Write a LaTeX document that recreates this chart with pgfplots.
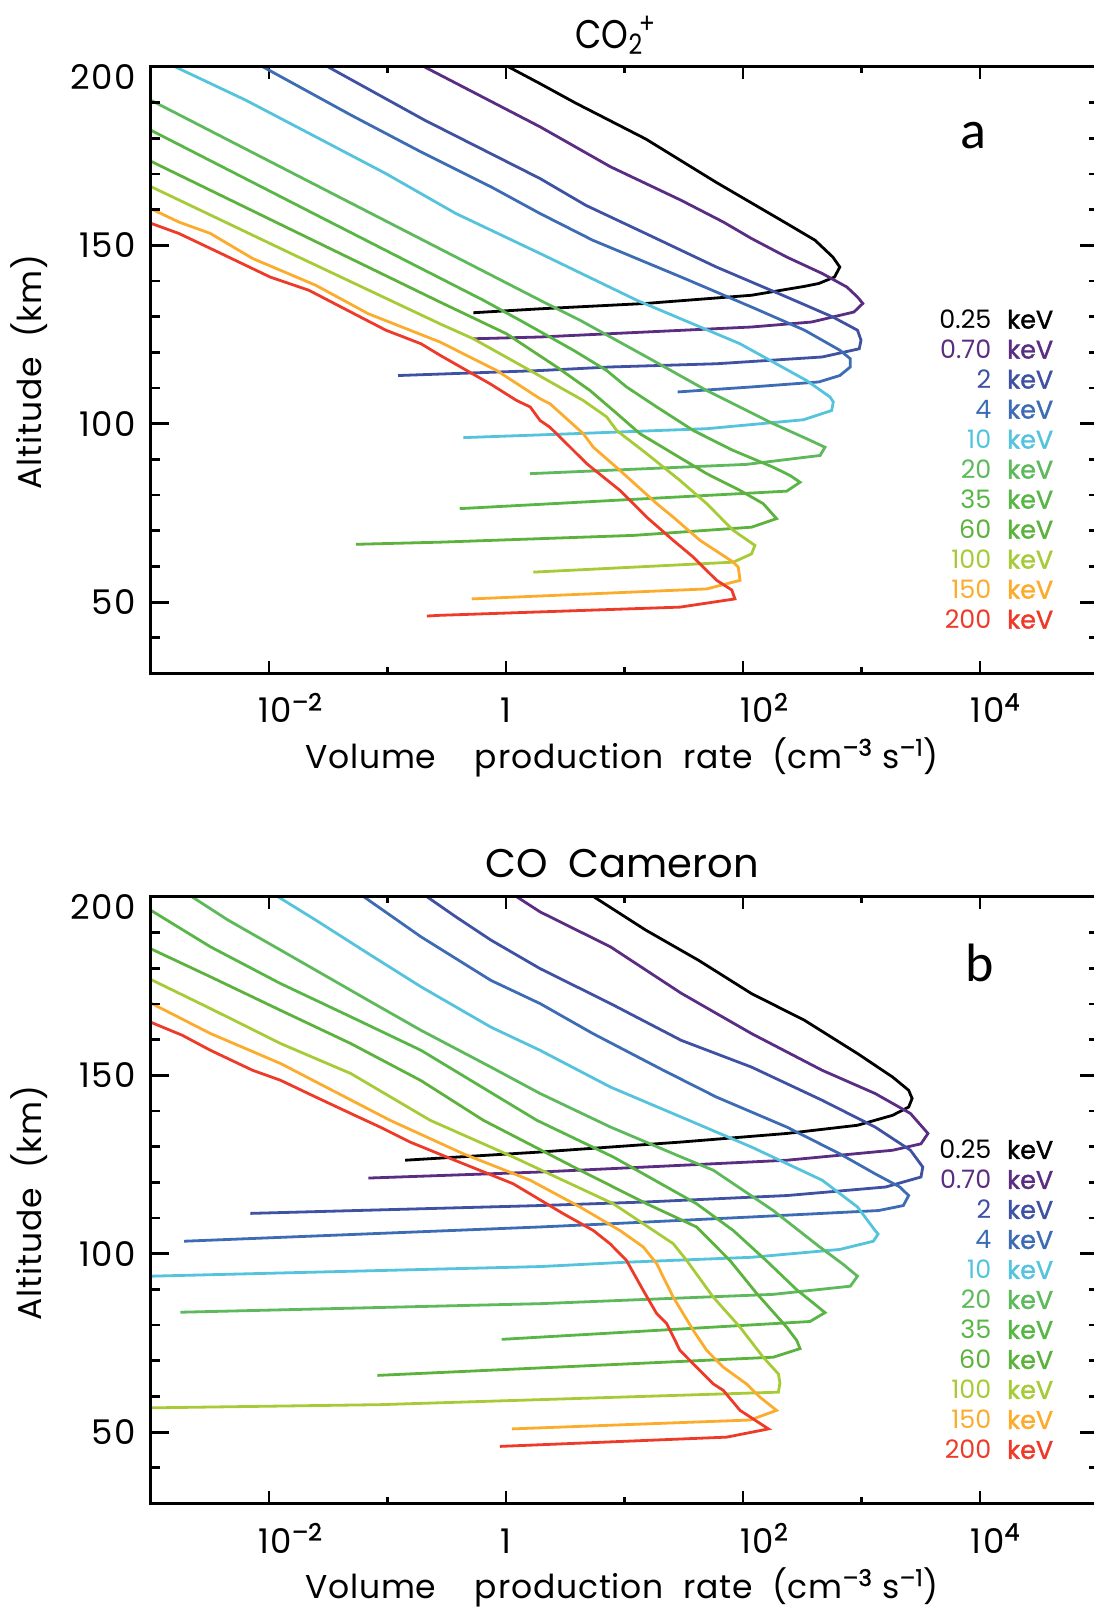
\documentclass[border=0pt]{standalone}
\usepackage{fontspec}
\setmainfont{Poppins}
\newfontfamily\tickfont{Poppins}[LetterSpace=5]
\newfontfamily\labfont{Poppins}[LetterSpace=2.5]
\newfontfamily\boldfont{Poppins}[FakeBold=1.5]
\newfontfamily\calib{Carlito}
\usepackage{pgfplots}
\pgfplotsset{compat=1.18}

\definecolor{c025}{RGB}{0,0,0}
\definecolor{c070}{RGB}{90,45,130}
\definecolor{c2}{RGB}{63,81,163}
\definecolor{c4}{RGB}{61,108,181}
\definecolor{c10}{RGB}{85,195,220}
\definecolor{c20}{RGB}{93,185,92}
\definecolor{c35}{RGB}{88,182,70}
\definecolor{c60}{RGB}{92,178,60}
\definecolor{c100}{RGB}{166,203,55}
\definecolor{c150}{RGB}{252,172,45}
\definecolor{c200}{RGB}{238,58,40}

\newcommand{\bsup}[1]{\textsuperscript{\boldfont #1}}

\begin{document}
\begin{tikzpicture}
\useasboundingbox (0,0) rectangle (546.5pt,804.5pt);

% ---------- panel a : CO2+ ----------
\begin{axis}[
  at={(75.25pt,467.75pt)}, anchor=south west,
  scale only axis, width=474pt, height=303.3pt,
  xmode=log, xmin=1e-3, xmax=1e5, ymin=30, ymax=200,
  xtick={1e-2,1,1e2,1e4},
  xticklabels={\hspace*{21.5pt}10\bsup{\textendash2},1,\hspace*{21.5pt}10\bsup{2},\hspace*{15.5pt}10\bsup{4}},
  minor xtick={1e-3,1e-1,1e1,1e3,1e5},
  ytick={50,100,150,200},
  yticklabels={50,100,150,\smash{\raisebox{-11.5pt}{200}}},
  minor ytick={40,60,70,80,90,110,120,130,140,160,170,180,190},
  tick align=inside,
  axis line style={line width=1.4pt},
  every tick/.append style={line width=1.4pt, black},
  major tick length=6pt, minor tick length=3pt,
  tick label style={font=\tickfont\fontsize{17}{20}\selectfont, inner sep=0pt},
  xticklabel style={anchor=base, yshift=-24.75pt},
  yticklabel style={anchor=east, xshift=-7pt},
  every axis plot/.append style={line width=1.4pt, mark=none},
]
\addplot[c025] coordinates {(1.05,200) (1.94,195.3) (3.85,189.9) (15.1,179.8) (59.7,167.6) (234,156.1) (406,151.4) (573,146.7) (656,143.9) (592,141.1) (436,139.3) (331,138.5) (118,136.0) (15.1,133.7) (1.94,132.2) (0.53,131.1)};
\addplot[c070] coordinates {(0.205,200) (1.94,183.2) (7.62,172.0) (30.1,162.6) (68.4,156.5) (118,151.9) (234,146.7) (466,142.1) (753,138.3) (925,135.5) (1026,133.7) (863,131.3) (379,128.5) (118,127.1) (15.1,125.7) (1.94,124.3) (0.53,123.8)};
\addplot[c2] coordinates {(0.0315,200) (0.205,185.1) (1.94,168.7) (4.72,161.2) (15.1,153.3) (59.7,143.9) (234,135.5) (573,129.9) (925,126.2) (991,123.4) (957,121.0) (466,118.7) (59.7,116.8) (7.62,115.9) (1.94,114.9) (0.123,113.5)};
\addplot[c4] coordinates {(0.0089,200) (0.0491,186.5) (0.191,176.2) (0.746,166.4) (1.94,158.9) (5.41,151.4) (30.1,141.1) (118,132.7) (331,126.2) (656,120.6) (805,118.2) (805,115.9) (656,113.5) (436,111.7) (118,110.3) (28.1,108.9)};
\addplot[c10] coordinates {(0.00162,200) (0.00634,190.7) (0.0248,180.4) (0.0968,170.1) (0.378,158.9) (1.94,147.7) (12.7,134.6) (94.4,122.4) (344,112.1) (542,107.5) (578,106.1) (560,103.7) (323,101.1) (49.4,98.6) (3.70,97.2) (0.437,96.1)};
\addplot[c20] coordinates {(0.001,190.7) (0.0316,165.1) (1.94,134.6) (4.21,129.0) (15.4,118.7) (49.4,109.3) (180,100.0) (344,95.8) (492,93.4) (447,91.1) (107,88.6) (1.60,86.0)};
\addplot[c35] coordinates {(0.001,182.3) (0.0251,158.5) (0.644,134.6) (1.31,129.0) (3.70,120.6) (7.08,114.9) (10.4,110.3) (18.7,104.7) (38.1,98.1) (82.8,92.5) (180,87.8) (249,85.5) (303,83.6) (234,81.1) (0.407,76.2)};
\addplot[c60] coordinates {(0.001,173.6) (0.0158,154.2) (0.277,134.1) (1.01,125.2) (2.68,115.9) (5.12,109.3) (8.05,103.7) (13.5,97.2) (25.8,91.6) (49.4,86.0) (94.4,81.3) (148,77.6) (192,73.4) (118,71.0) (11.9,68.7) (0.277,66.8) (0.0542,66.2)};
\addplot[c100] coordinates {(0.001,166.5) (0.0158,147.5) (0.277,128.0) (0.53,123.8) (1.60,114.9) (4.49,106.5) (7.08,101.9) (8.59,98.1) (15.4,91.6) (29.4,84.1) (49.4,77.6) (82.8,70.1) (126,65.9) (118,63.5) (82.8,61.2) (1.70,58.4)};
\addplot[c150] coordinates {(0.001,160.3) (0.00174,156.5) (0.00321,153.3) (0.00728,146.3) (0.0248,138.8) (0.069,130.8) (0.277,122.9) (0.836,114.9) (1.94,107.0) (2.35,105.6) (4.49,97.2) (5.46,93.4) (9.16,86.9) (18.7,77.6) (25.8,73.8) (43.4,67.3) (82.8,61.2) (91.2,59.8) (94.4,56.1) (49.4,53.7) (0.514,50.9)};
\addplot[c200] coordinates {(0.001,156.2) (0.00174,153.3) (0.00394,147.7) (0.01023,141.1) (0.0217,137.4) (0.0458,131.8) (0.097,126.2) (0.192,122.4) (0.277,119.2) (0.733,111.2) (1.23,106.5) (1.60,104.7) (1.94,100.9) (2.35,99.0) (3.25,94.4) (4.80,88.8) (9.16,81.3) (15.4,73.8) (25.8,67.3) (38.1,62.6) (46.2,59.8) (60.0,56.1) (80.4,53.4) (85.5,50.9) (29.4,48.6) (0.277,46.3) (0.215,46.1)};
\end{axis}
% longer y ticks drawn over panel a
\begin{axis}[
  at={(75.25pt,467.75pt)}, anchor=south west,
  scale only axis, width=474pt, height=303.3pt,
  xmin=0, xmax=1, ymin=30, ymax=200, xtick=\empty,
  ytick={50,100,150,200}, yticklabels={\relax,\relax,\relax,\relax},
  minor ytick={40,60,70,80,90,110,120,130,140,160,170,180,190},
  tick align=inside,
  axis line style={line width=1.4pt},
  every tick/.append style={line width=1.4pt, black},
  major tick length=9.5pt, minor tick length=5pt,
]
\addplot[draw=none] coordinates {(0,30)};
\end{axis}

% ---------- panel b : CO Cameron ----------
\begin{axis}[
  at={(75.25pt,52.75pt)}, anchor=south west,
  scale only axis, width=474pt, height=303.3pt,
  xmode=log, xmin=1e-3, xmax=1e5, ymin=30, ymax=200,
  xtick={1e-2,1,1e2,1e4},
  xticklabels={\hspace*{21.5pt}10\bsup{\textendash2},1,\hspace*{21.5pt}10\bsup{2},\hspace*{15.5pt}10\bsup{4}},
  minor xtick={1e-3,1e-1,1e1,1e3,1e5},
  ytick={50,100,150,200},
  yticklabels={50,100,150,\smash{\raisebox{-11.5pt}{200}}},
  minor ytick={40,60,70,80,90,110,120,130,140,160,170,180,190},
  tick align=inside,
  axis line style={line width=1.4pt},
  every tick/.append style={line width=1.4pt, black},
  major tick length=6pt, minor tick length=3pt,
  tick label style={font=\tickfont\fontsize{17}{20}\selectfont, inner sep=0pt},
  xticklabel style={anchor=base, yshift=-24.75pt},
  yticklabel style={anchor=east, xshift=-7pt},
  every axis plot/.append style={line width=1.4pt, mark=none},
]
\addplot[c025] coordinates {(5.41,200.2) (15.1,190.7) (42.3,182.2) (118,172.9) (331,165.4) (925,156.1) (1832,149.5) (2500,145.8) (2673,143.5) (2500,141.1) (1832,138.8) (925,136.0) (234,133.7) (30.1,131.3) (1.94,128.5) (0.141,126.2)};
\addplot[c070] coordinates {(1.21,200.2) (1.94,195.8) (7.62,186.0) (30.1,173.0) (118,161.7) (466,151.4) (1303,144.9) (2588,139.3) (3639,133.7) (3177,130.8) (1832,129.0) (234,126.2) (15.1,124.3) (1.94,122.9) (0.0689,121.2)};
\addplot[c2] coordinates {(0.212,200.2) (0.378,194.4) (0.746,187.9) (1.94,179.9) (7.62,170.1) (30.1,159.8) (118,152.3) (466,143.0) (1303,135.5) (2588,129.0) (3289,124.3) (3177,121.5) (1600,118.7) (234,116.3) (15.1,114.5) (1.94,113.5) (0.00697,111.3)};
\addplot[c4] coordinates {(0.0621,200.2) (0.192,188.8) (0.746,176.6) (1.94,170.1) (5.41,161.7) (21.3,151.4) (59.7,143.9) (234,135.5) (656,128.0) (1303,122.4) (2104,118.7) (2500,116.3) (2254,113.5) (1393,112.1) (118,110.3) (7.62,108.4) (1.94,107.5) (0.00192,103.5)};
\addplot[c10] coordinates {(0.0117,200.2) (0.0248,193.5) (0.0689,184.1) (0.192,174.8) (0.746,163.5) (1.94,157.0) (7.62,146.7) (30.1,138.3) (118,129.9) (466,120.6) (925,113.1) (1303,106.5) (1380,105.5) (1259,103.5) (656,101.2) (118,99.0) (10,97.6) (1.94,96.4) (0.001,93.7)};
\addplot[c20] coordinates {(0.0022,200.2) (0.00451,193.5) (0.01253,185.1) (0.0689,171.0) (0.192,162.6) (0.746,152.3) (1.94,144.9) (7.62,135.5) (30.1,127.1) (56.2,123.4) (180,112.1) (436,102.1) (702,97.0) (925,93.7) (805,90.9) (178,88.6) (15.1,87.2) (1.94,86.0) (0.00179,83.6)};
\addplot[c35] coordinates {(0.001,196.3) (0.00321,186.0) (0.01253,175.7) (0.049,166.4) (0.192,157.0) (1.82,137.4) (8.05,127.1) (40.6,114.0) (82.8,106.5) (158,98.0) (282,90.0) (398,86.0) (492,83.5) (367,81.0) (0.92,76.0)};
\addplot[c60] coordinates {(0.001,185.5) (0.00321,177.6) (0.01253,168.2) (0.049,158.9) (0.192,148.5) (0.644,137.4) (4.21,123.4) (15.4,114.0) (40.6,107.5) (77.6,98.1) (131,88.8) (234,79.4) (284,75.7) (303,73.4) (180,71.0) (0.0822,65.9)};
\addplot[c100] coordinates {(0.001,176.9) (0.00321,168.7) (0.01253,158.9) (0.049,150.5) (0.229,137.4) (1.15,127.1) (8.05,114.0) (25.8,102.8) (33.5,98.1) (56.2,87.8) (94.4,79.4) (148,71.0) (199,66.3) (205,63.8) (199,61.2) (0.0865,57.7) (0.001,56.8)};
\addplot[c150] coordinates {(0.001,170.3) (0.00321,161.7) (0.01253,153.3) (0.105,137.4) (0.437,128.0) (1.60,120.6) (4.21,113.1) (9.16,106.5) (14.4,101.9) (18.7,97.2) (21.3,93.4) (25.8,87.8) (38.1,78.5) (49.4,72.9) (68.2,68.2) (107,63.5) (139,59.8) (192,56.1) (115,53.4) (1.12,50.9)};
\addplot[c200] coordinates {(0.001,164.9) (0.00186,161.2) (0.00321,157.0) (0.00728,151.4) (0.01253,148.6) (0.0248,143.9) (0.049,139.3) (0.0865,135.5) (0.155,131.3) (0.316,127.1) (1.15,119.6) (3.05,111.2) (5.46,106.5) (7.55,102.8) (10.4,98.1) (14.4,89.7) (18.7,83.2) (22.7,80.4) (29.4,72.9) (40.6,68.2) (56.2,63.5) (68.2,61.7) (94.4,56.1) (164,50.9) (72.8,48.6) (0.889,46.0)};
\end{axis}
% longer y ticks drawn over panel b
\begin{axis}[
  at={(75.25pt,52.75pt)}, anchor=south west,
  scale only axis, width=474pt, height=303.3pt,
  xmin=0, xmax=1, ymin=30, ymax=200, xtick=\empty,
  ytick={50,100,150,200}, yticklabels={\relax,\relax,\relax,\relax},
  minor ytick={40,60,70,80,90,110,120,130,140,160,170,180,190},
  tick align=inside,
  axis line style={line width=1.4pt},
  every tick/.append style={line width=1.4pt, black},
  major tick length=9.5pt, minor tick length=5pt,
]
\addplot[draw=none] coordinates {(0,30)};
\end{axis}

% ---------- titles, labels ----------
\node[anchor=base west, inner sep=0pt, xscale=0.85, font=\fontsize{20}{24}\selectfont] at (287.6pt,780.35pt) {CO\textsubscript{2}\kern-2.5pt\textsuperscript{+}};
\node[anchor=base, inner sep=0pt, font=\fontsize{20}{24}\selectfont] at (311pt,365.5pt) {CO\ \ Cameron};
\node[anchor=base, inner sep=0pt, font=\labfont\fontsize{16.5}{20}\selectfont] at (311pt,420.35pt)
  {Volume\ \ \ \ production\ \ rate\ \ (cm\bsup{\textendash3}\ s\bsup{\textendash1})};
\node[anchor=base, inner sep=0pt, font=\labfont\fontsize{16.5}{20}\selectfont] at (311pt,5.2pt)
  {Volume\ \ \ \ production\ \ rate\ \ (cm\bsup{\textendash3}\ s\bsup{\textendash1})};
\node[anchor=base, rotate=90, inner sep=0pt, font=\labfont\fontsize{16.5}{20}\selectfont] at (21pt,618.5pt) {Altitude\ \ (km)};
\node[anchor=base, rotate=90, inner sep=0pt, font=\labfont\fontsize{16.5}{20}\selectfont] at (21pt,203pt) {Altitude\ \ (km)};
\node[inner sep=0pt, font=\calib\fontsize{27}{32}\selectfont] at (486.5pt,736.6pt) {a};
\node[inner sep=0pt, font=\calib\fontsize{27}{32}\selectfont] at (489.6pt,323pt) {b};

% ---------- energy labels ----------
\foreach \ytop in {644.85,229.7}{
  \foreach \lab/\col [count=\i from 0] in {0.25/c025,0.70/c070,2/c2,4/c4,10/c10,20/c20,35/c35,60/c60,100/c100,150/c150,200/c200}{
    \node[anchor=east, inner sep=0pt, text=\col, font=\fontsize{12.7}{15}\selectfont] at (495.85pt,{(\ytop-15*\i)*1pt}) {\lab};
    \node[anchor=west, inner sep=0pt, text=\col, font=\boldfont\fontsize{12.7}{15}\selectfont] at (503.35pt,{(\ytop-15*\i)*1pt}) {keV};
  }
}
\end{tikzpicture}
\end{document}
